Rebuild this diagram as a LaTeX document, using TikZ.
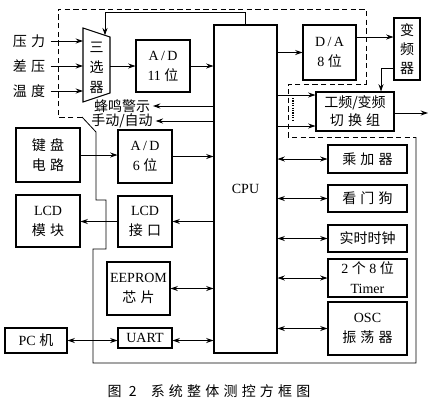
\documentclass[tikz,border=0pt]{standalone}
\usepackage{fontspec}
\setmainfont{Liberation Serif}
\newfontfamily\cjk[LetterSpace=30]{Noto Sans CJK SC}
\newfontfamily\cjkn{Noto Sans CJK SC}
\usetikzlibrary{arrows.meta}
\newcommand\bx[6][]{}
\begin{document}
\begin{tikzpicture}[x=0.75pt,y=-0.75pt,
  box/.style={draw,line width=0.8pt,inner sep=0pt,align=center,font=\fontsize{10.5}{15}\selectfont},
  con/.style={line width=0.7pt,-{Stealth[length=5.5pt,width=3.8pt]}},
  bicon/.style={line width=0.7pt,{Stealth[length=5.5pt,width=3.8pt]}-{Stealth[length=5.5pt,width=3.8pt]}},
  frame/.style={line width=0.6pt},
  framedash/.style={frame,dash pattern=on 4pt off 2.5pt},
  lbl/.style={inner sep=0pt,font=\fontsize{10.5}{12}\selectfont}]
\renewcommand\bx[6][]{\node[box,#1,minimum width={(#4-#2)*0.75pt},minimum height={(#5-#3)*0.75pt}] at ({(#2+#4)/2},{(#3+#5)/2}) #6;}
\useasboundingbox (0,0) rectangle (436,405);

% frame
\draw[framedash] (82,117) -- (58,117) -- (58,9) -- (366,9) -- (366,84) -- (288,84) -- (288,137) -- (416,137);
\draw[frame] (416,137) -- (416,363) -- (93,363) -- (93,249) -- (106,249) -- (106,200) -- (96,200) -- (96,132) -- (82,117);

% inputs and selector
\node[lbl] (p1) at (29,41) {\cjk 压力};
\node[lbl] (p2) at (29,66) {\cjk 差压};
\node[lbl] (p3) at (29,91) {\cjk 温度};
\draw[line width=0.8pt] (83,28) -- (110,37) -- (110,93) -- (83,102) -- cycle;
\coordinate (selW) at (83,65);
\coordinate (selE) at (110,66);
\coordinate (selTop) at (105,35.3);
\node[lbl,align=center,font=\cjkn\fontsize{10.5}{15}\selectfont] (sel) at (96.5,67.5) {三\\选\\器};
\draw[con,shorten <=4pt] (p1.east) -- (p1.east -| selW);
\draw[con,shorten <=4pt] (p2.east) -- (p2.east -| selW);
\draw[con,shorten <=4pt] (p3.east) -- (p3.east -| selW);

\bx{136}{40}{190}{92}{(ad11) {A\,/\,D\\11 {\cjk 位}}}
\bx{214}{25}{277}{353}{(cpu) {CPU}}
\draw[con] (selE) -- (selE -| ad11.west);
\draw[con] (ad11.east) -- (ad11.east -| cpu.west);
\draw[con] (cpu.north) -- ++(0,-12) -| (selTop);

\node[lbl] (buzz) at (122,106) {\cjkn 蜂鸣警示};
\node[lbl] (man) at (122,121) {\cjkn 手动/自动};
\draw[con,shorten >=2pt] (cpu.west |- buzz) -- (buzz.east);
\draw[con,shorten >=2pt] (cpu.west |- man) -- (man.east);

% D/A and inverter
\bx{303}{25}{356}{80}{(da) {D\,/\,A\\8 {\cjk 位}}}
\bx[font=\cjkn\fontsize{10.5}{14.5}\selectfont]{394}{18}{420}{80}{(vfd) {变\\频\\器}}
\draw[con] (cpu.east |- da) -- (da.west);
\draw[con] (da.east |- 0,37) -- (vfd.west |- 0,37);
\bx[font=\fontsize{10.5}{13.5}\selectfont]{316}{92}{394}{131}{(sw) {{\cjkn 工频/变频}\\{\cjk 切换组}}}
\draw[con] (vfd.west |- 0,68) -| (381,0 |- sw.north);
\draw[con] (cpu.east |- 0,95) -- (sw.west |- 0,95);
\draw[con] (cpu.east |- 0,126) -- (sw.west |- 0,126);
\coordinate (out) at (428,113);
\draw[con] (sw.east |- out) -- (out);
\draw[line width=1pt,dash pattern=on 0.9pt off 0.9pt] (293,98) -- (293,120);

% right peripherals
\bx{328}{145}{407}{173}{(mul) {\cjk 乘加器}}
\bx{328}{185}{407}{212}{(wd) {\cjk 看门狗}}
\bx{328}{225}{407}{252}{(rtc) {\cjkn 实时时钟}}
\bx{328}{259}{407}{297}{(tmr) {2 {\cjk 个} 8 {\cjk 位}\\Timer}}
\bx{328}{302}{407}{355}{(osc) {OSC\\{\cjk 振荡器}}}
\draw[bicon] (cpu.east |- mul) -- (mul.west);
\draw[bicon] (cpu.east |- wd) -- (wd.west);
\draw[bicon] (cpu.east |- rtc) -- (rtc.west);
\draw[bicon] (cpu.east |- tmr) -- (tmr.west);
\draw[bicon] (cpu.east |- osc) -- (osc.west);

% left peripherals
\bx{16}{128}{80}{182}{(kbd) {{\cjk 键盘}\\{\cjk 电路}}}
\bx{118}{130}{172}{183}{(ad6) {A\,/\,D\\6 {\cjk 位}}}
\draw[con] (kbd.east) -- (kbd.east -| ad6.west);
\draw[con] (ad6.east) -- (ad6.east -| cpu.west);
\bx{16}{195}{80}{247}{(lcdm) {LCD\\{\cjk 模块}}}
\bx{118}{196}{172}{247}{(lcdi) {LCD\\{\cjk 接口}}}
\draw[con] (lcdi.west) -- (lcdi.west -| lcdm.east);
\draw[con] (cpu.west |- lcdi) -- (lcdi.east);
\bx{107}{262}{170}{315}{(eep) {EEPROM\\{\cjk 芯片}}}
\draw[bicon] (eep.east) -- (eep.east -| cpu.west);
\bx{5}{328}{67}{353}{(pc) {PC {\cjk 机}}}
\bx{118}{328}{172}{348}{(uart) {UART}}
\draw[bicon] (pc.east) -- (pc.east -| uart.west);
\draw[bicon] (uart.east |- pc) -- (cpu.west |- pc);

% caption
\node[lbl] (cap) at (209,391) {\cjk 图 2\quad 系统整体测控方框图};
\end{tikzpicture}
\end{document}
